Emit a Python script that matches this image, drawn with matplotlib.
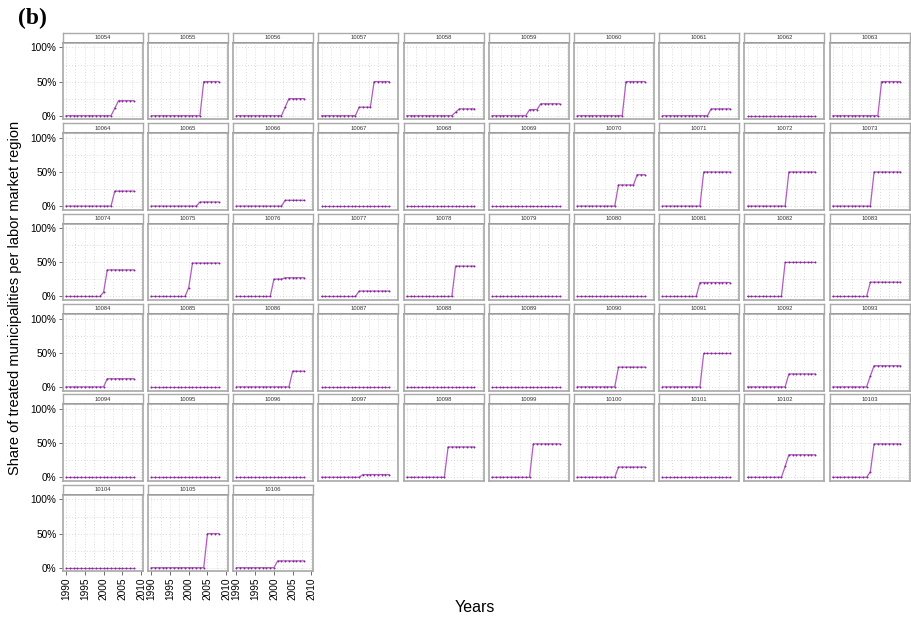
import matplotlib
matplotlib.use('Agg')
import matplotlib.pyplot as plt

plt.rcParams['font.family'] = ['Liberation Sans', 'DejaVu Sans']

years = list(range(1990, 2009))
regions = list(range(10054, 10107))

# share of treated municipalities, 1990..2008, read row by row from the facets
row1 = [
    [0] * 13 + [0.11] + [0.22] * 5,        # 10054
    [0] * 14 + [0.5] * 5,                  # 10055
    [0] * 13 + [0.125] + [0.25] * 5,       # 10056
    [0] * 10 + [0.125] * 4 + [0.5] * 5,    # 10057
    [0] * 13 + [0.05] + [0.10] * 5,        # 10058
    [0] * 10 + [0.09] * 3 + [0.175] * 6,   # 10059
    [0] * 13 + [0.5] * 6,                  # 10060
    [0] * 13 + [0.10] * 6,                 # 10061
    [0] * 19,                              # 10062
    [0] * 13 + [0.5] * 6,                  # 10063
]
row2 = [
    [0] * 13 + [0.22] * 6,                 # 10064
    [0] * 13 + [0.06] * 6,                 # 10065
    [0] * 13 + [0.085] * 6,                # 10066
    [0] * 19,                              # 10067
    [0] * 19,                              # 10068
    [0] * 19,                              # 10069
    [0] * 11 + [0.31] * 5 + [0.46] * 3,    # 10070
    [0] * 11 + [0.5] * 8,                  # 10071
    [0] * 11 + [0.5] * 8,                  # 10072
    [0] * 11 + [0.5] * 8,                  # 10073
]
row3 = [
    [0] * 10 + [0.06] + [0.39] * 8,        # 10074
    [0] * 10 + [0.13] + [0.49] * 8,        # 10075
    [0] * 10 + [0.255] * 3 + [0.275] * 6,  # 10076
    [0] * 10 + [0.08] * 9,                 # 10077
    [0] * 13 + [0.445] * 6,                # 10078
    [0] * 19,                              # 10079
    [0] * 19,                              # 10080
    [0] * 10 + [0.205] * 9,                # 10081
    [0] * 10 + [0.5] * 9,                  # 10082
    [0] * 10 + [0.21] * 9,                 # 10083
]
row4 = [
    [0] * 11 + [0.12] * 8,                 # 10084
    [0] * 19,                              # 10085
    [0] * 15 + [0.23] * 4,                 # 10086
    [0] * 19,                              # 10087
    [0] * 19,                              # 10088
    [0] * 19,                              # 10089
    [0] * 11 + [0.29] * 8,                 # 10090
    [0] * 11 + [0.49] * 8,                 # 10091
    [0] * 11 + [0.19] * 8,                 # 10092
    [0] * 10 + [0.16] + [0.31] * 8,        # 10093
]
row5 = [
    [0] * 19,                              # 10094
    [0] * 19,                              # 10095
    [0] * 19,                              # 10096
    [0] * 11 + [0.04] * 8,                 # 10097
    [0] * 11 + [0.445] * 8,                # 10098
    [0] * 11 + [0.49] * 8,                 # 10099
    [0] * 11 + [0.15] * 8,                 # 10100
    [0] * 19,                              # 10101
    [0] * 10 + [0.16] + [0.33] * 8,        # 10102
    [0] * 10 + [0.08] + [0.49] * 8,        # 10103
]
row6 = [
    [0] * 19,                              # 10104
    [0] * 15 + [0.5] * 4,                  # 10105
    [0] * 11 + [0.10] * 8,                 # 10106
]
shares = row1 + row2 + row3 + row4 + row5 + row6

x_ticks = [1990, 1995, 2000, 2005, 2010]
y_ticks = [0, 0.5, 1.0]
y_labels = ['0%', '50%', '100%']

W, H = 911, 622
fig = plt.figure(figsize=(W / 100, H / 100), dpi=100)


def px_axes(x, y, w, h):
    return fig.add_axes([x / W, 1 - (y + h) / H, w / W, h / H])


ncol = 10
for i, (reg, vals) in enumerate(zip(regions, shares)):
    r, c = divmod(i, ncol)
    x0 = 62.7 + 85.2 * c
    y0 = 32.7 + 90.4 * r

    # strip
    sax = px_axes(x0, y0, 80, 10)
    sax.set_xticks([])
    sax.set_yticks([])
    for s in sax.spines.values():
        s.set_color('#aaaaaa')
        s.set_linewidth(1.0)
    sax.spines['bottom'].set_color('#666666')
    sax.spines['bottom'].set_linewidth(1.4)
    sax.text(0.5, 0.5, str(reg), ha='center', va='center', fontsize=4.2,
             color='#333333', transform=sax.transAxes)

    ax = px_axes(x0, y0 + 10, 80, 76.6)
    ax.plot(years, vals, color='#b45ac4', lw=0.9, zorder=3)
    ax.plot(years, vals, 'o', ms=1.4, color='#7a2a8c', mec='none', zorder=4)
    ax.set_xlim(1989.1, 2010.45)
    ax.set_ylim(-0.053, 1.07)
    ax.set_xticks(x_ticks)
    ax.set_xticks([1992.5, 1997.5, 2002.5, 2007.5], minor=True)
    ax.set_yticks(y_ticks)
    ax.set_yticks([0.25, 0.75], minor=True)
    ax.grid(which='both', linestyle=(0, (1, 2.5)), color='#cfcfcf', lw=0.6)
    ax.tick_params(which='minor', length=0)
    ax.tick_params(which='major', length=3, width=0.6, color='#555555',
                   labelsize=7.3, pad=1.5)
    for s in ax.spines.values():
        s.set_color('#a8a8a8')
        s.set_linewidth(1.2)
    if c == 0:
        ax.set_yticklabels(y_labels)
    else:
        ax.tick_params(axis='y', length=0, labelleft=False)
    if r == 5:
        ax.set_xticklabels([str(t) for t in x_ticks], rotation=90)
    else:
        ax.tick_params(axis='x', length=0, labelbottom=False)

fig.text(15 / W, 1 - 298 / H, 'Share of treated municipalities per labor market region',
         rotation=90, ha='center', va='center', fontsize=10.5)
fig.text(475 / W, 1 - 608 / H, 'Years', ha='center', va='center', fontsize=11.5)
fig.text(18 / W, 1 - 18 / H, '(b)', ha='left', va='center', fontsize=17,
         fontweight='bold', family='Liberation Serif')

fig.savefig('out.png', dpi=100)
